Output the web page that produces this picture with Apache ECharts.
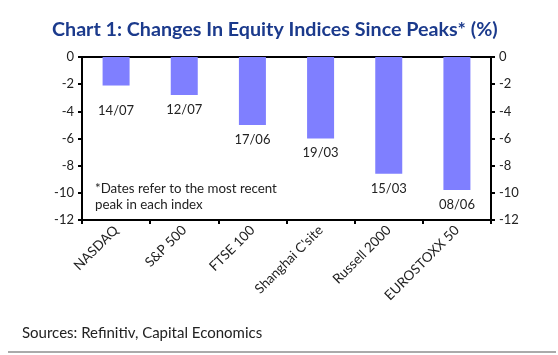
<!DOCTYPE html>
<html>
<head>
<meta charset="utf-8">
<script src="https://cdn.jsdelivr.net/npm/echarts@6/dist/echarts.min.js"></script>
<style>
html,body{margin:0;padding:0;background:#fff;}
#chart{width:558px;height:355px;}
</style>
</head>
<body>
<div id="chart"></div>
<script>
var categories = ["NASDAQ", "S&P 500", "FTSE 100", "Shanghai C'site", "Russell 2000", "EUROSTOXX 50"];
var changes = [-2.1, -2.8, -5.0, -6.0, -8.6, -9.8];
var peakDates = ["14/07", "12/07", "17/06", "19/03", "15/03", "08/06"];
var yTicks = [-12, -10, -8, -6, -4, -2, 0];

var chart = echarts.init(document.getElementById('chart'), null, {renderer: 'canvas'});
var FONT = 'Lato';

var seriesData = changes.map(function (v, i) {
  return {
    value: v,
    label: {
      show: true,
      position: 'bottom',
      distance: i === 0 ? 19 : 8,
      formatter: peakDates[i],
      color: '#222',
      fontFamily: FONT,
      fontSize: 13
    }
  };
});

function yAxisDef(pos) {
  return {
    type: 'value',
    position: pos,
    min: yTicks[0],
    max: yTicks[yTicks.length - 1],
    interval: 2,
    axisLine: {show: true, lineStyle: {color: '#000', width: 2}},
    axisTick: {show: true, inside: false, length: 4, lineStyle: {color: '#000', width: 2}},
    axisLabel: {color: '#222', fontFamily: FONT, fontSize: 13, margin: 8},
    splitLine: {show: false}
  };
}

chart.setOption({
  animation: false,
  backgroundColor: '#fff',
  title: {
    text: 'Chart 1: Changes In Equity Indices Since Peaks* (%)',
    left: 47,
    top: 15,
    textStyle: {color: '#1b3a8c', fontFamily: FONT, fontWeight: 'bold', fontSize: 19.7}
  },
  grid: {
    left: 82, right: 67, top: 57, bottom: 135,
    show: true, borderColor: '#000', borderWidth: 2, backgroundColor: 'transparent'
  },
  xAxis: {
    type: 'category',
    data: categories,
    position: 'bottom',
    axisLine: {show: true, onZero: false, lineStyle: {color: '#000', width: 2}},
    axisTick: {show: true, inside: false, length: 4, lineStyle: {color: '#000', width: 2}},
    axisLabel: {rotate: 45, color: '#222', fontFamily: FONT, fontSize: 13.5, margin: 8, interval: 0}
  },
  yAxis: [yAxisDef('left'), yAxisDef('right')],
  series: [{
    type: 'bar',
    data: seriesData,
    yAxisIndex: 0,
    barWidth: 27,
    itemStyle: {color: '#7f7fff'}
  }],
  graphic: [
    {
      type: 'text', left: 95, top: 181,
      style: {text: '*Dates refer to the most recent\npeak in each index', fill: '#222', font: '13.3px Lato', lineHeight: 16}
    },
    {
      type: 'text', left: 22, top: 326,
      style: {text: 'Sources: Refinitiv, Capital Economics', fill: '#222', font: '15px Lato'}
    },
    {
      type: 'line', shape: {x1: 8, y1: 352, x2: 556, y2: 352},
      style: {stroke: '#aaa', lineWidth: 2}
    }
  ]
});
</script>
</body>
</html>
